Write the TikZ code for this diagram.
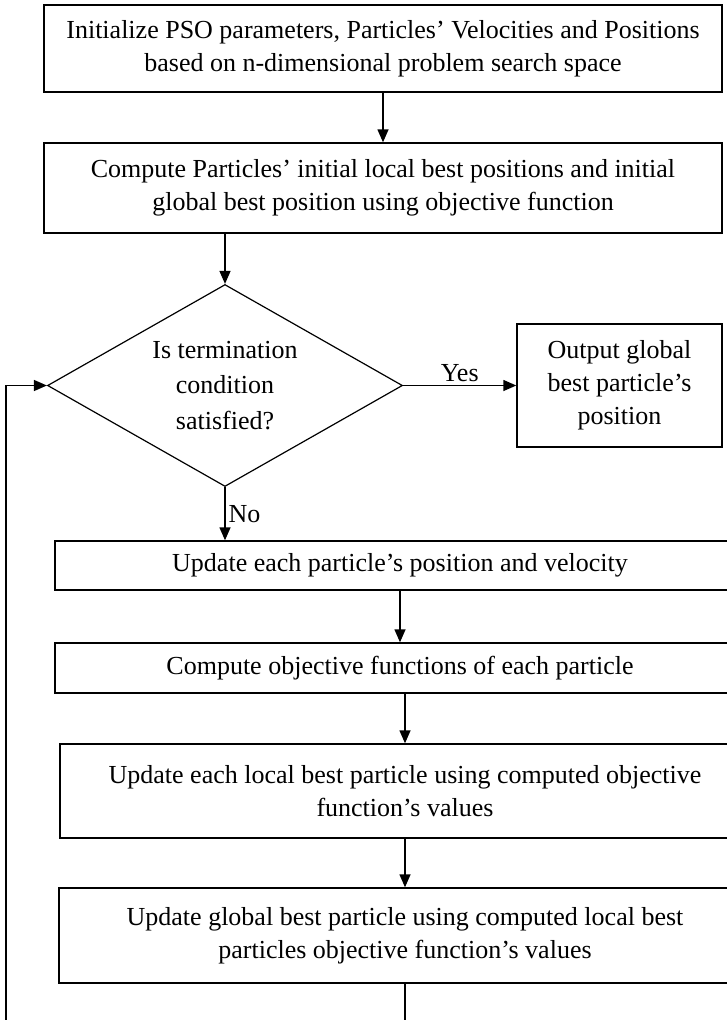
\documentclass[tikz,border=0pt]{standalone}
\usepackage{fontspec}
\setmainfont{Liberation Serif}
\usetikzlibrary{arrows.meta,shapes.geometric}

\begin{document}
\begin{tikzpicture}[x=1pt,y=-1pt,
  box/.style={draw,line width=1.4pt,inner sep=0pt,align=center,font=\fontsize{26}{33}\selectfont},
  decision/.style={draw,diamond,aspect=1.76,line width=1.2pt,inner sep=0pt,align=center,font=\fontsize{26}{35.5}\selectfont},
  arr/.style={line width=1.4pt,-{Triangle[length=13pt,width=11pt]}},
  lbl/.style={font=\fontsize{26}{33}\selectfont,inner sep=3pt}]
\useasboundingbox (0,0) rectangle (726,1020);

\node[box,minimum width=678pt,minimum height=87pt] (init) at (383,48.5) {Initialize PSO parameters, Particles' Velocities and Positions\\based on n-dimensional problem search space};
\node[box,minimum width=678pt,minimum height=90pt] (compute) at (383,188) {Compute Particles' initial local best positions and initial\\global best position using objective function};
\node[decision,minimum width=355pt,minimum height=202pt] (decide) at (225,385.5) {\rule{0pt}{12pt}Is termination\\condition\\satisfied?};
\node[box,minimum width=205pt,minimum height=123pt] (output) at (619.5,385.5) {Output global\\best particle's\\position};
\node[box,minimum width=690pt,minimum height=49pt] (update) at (400,565.5) {Update each particle's position and velocity};
\node[box,minimum width=690pt,minimum height=50pt] (objective) at (400,668) {Compute objective functions of each particle};
\node[box,minimum width=690pt,minimum height=94pt] (localbest) at (405,791) {Update each local best particle using computed objective\\function's values};
\node[box,minimum width=692pt,minimum height=95pt] (globalbest) at (405,935.5) {Update global best particle using computed local best\\particles objective function's values};

\coordinate (loopbr) at (405,1030);
\coordinate (loopbl) at (6,1030);

\draw[arr] (init) -- (compute);
\draw[arr] (compute.south -| decide.north) -- (decide.north);
\draw[arr] (decide.east) -- node[lbl,above]{Yes} (output.west);
\draw[arr] (decide.south) -- node[lbl,right]{No} (update.north -| decide.south);
\draw[arr] (update) -- (objective);
\draw[arr] (objective.south -| localbest.north) -- (localbest.north);
\draw[arr] (localbest) -- (globalbest);
\draw[arr] (globalbest.south) -- (loopbr) -- (loopbl) |- (decide.west);

\end{tikzpicture}
\end{document}
